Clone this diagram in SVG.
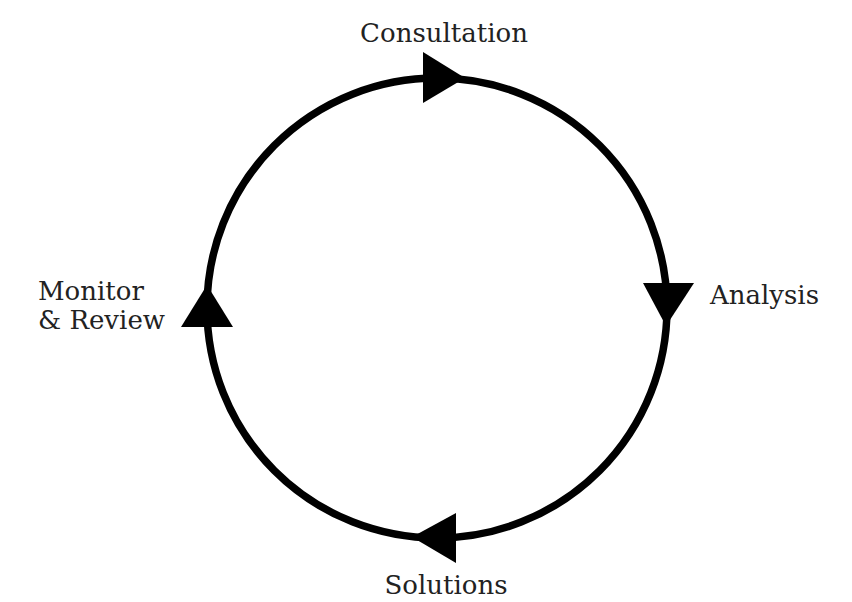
<svg xmlns="http://www.w3.org/2000/svg" width="852" height="602" viewBox="0 0 852 602">
  <style>
    .ring { fill: none; stroke: #000; stroke-width: 7.5; }
    .head { fill: #000; }
    .label { font-family: "DejaVu Serif", "Liberation Serif", serif; font-size: 26px; fill: #222; }
  </style>
  <rect width="852" height="602" fill="#fff"/>
  <g id="connectors">
    <circle class="ring" cx="437" cy="308" r="230"/>
    <polygon class="head" points="423,52 423,103 465,78"/>
    <polygon class="head" points="643,283 694,283 666,326"/>
    <polygon class="head" points="456,513 456,563 412,537"/>
    <polygon class="head" points="181,327 233,327 207,285"/>
  </g>
  <g id="consultation">
    <text class="label" x="444" y="42" text-anchor="middle">Consultation</text>
  </g>
  <g id="analysis">
    <text class="label" x="710" y="304">Analysis</text>
  </g>
  <g id="solutions">
    <text class="label" x="446" y="594" text-anchor="middle">Solutions</text>
  </g>
  <g id="monitor-review">
    <text class="label" x="38" y="300">Monitor</text>
    <text class="label" x="38" y="329">&amp; Review</text>
  </g>
</svg>
